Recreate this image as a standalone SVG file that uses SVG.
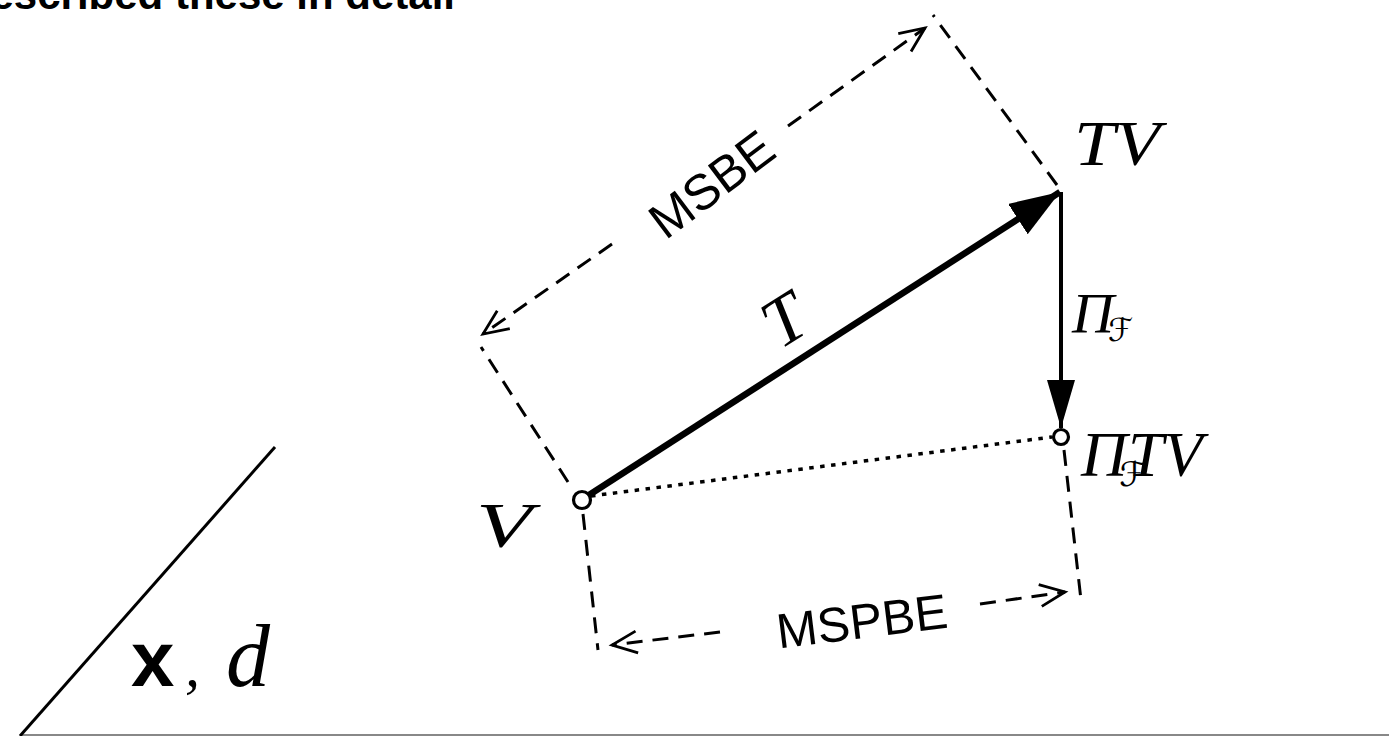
<svg xmlns="http://www.w3.org/2000/svg" width="1389" height="736" viewBox="0 0 1389 736">
<style>
.dash{fill:none;stroke:#000;stroke-width:3;stroke-dasharray:16 10}
.dot{fill:none;stroke:#000;stroke-width:3.5;stroke-dasharray:4.5 6.5}
.math{font-family:"Liberation Serif","DejaVu Serif",serif;font-style:italic;fill:#000}
.cal{font-family:"DejaVu Sans",sans-serif;font-style:normal}
.lab{font-family:"Liberation Sans",Arial,sans-serif;fill:#000}
.pt{fill:#fff;stroke:#000;stroke-width:3.2}
</style>
<defs>
<marker id="fill" markerUnits="userSpaceOnUse" markerWidth="56" markerHeight="40" refX="50" refY="18" orient="auto">
<path d="M0,0 L50,18 L0,36 Z" fill="#000"/>
</marker>
<marker id="fill2" markerUnits="userSpaceOnUse" markerWidth="56" markerHeight="34" refX="48" refY="14" orient="auto">
<path d="M0,0 L48,14 L0,28 Z" fill="#000"/>
</marker>
<marker id="open" markerUnits="userSpaceOnUse" markerWidth="34" markerHeight="34" refX="27" refY="14" orient="auto">
<path d="M2,3 L27,14 L2,25" fill="none" stroke="#000" stroke-width="2.8"/>
</marker>
</defs>
<text class="lab" x="455" y="9" font-size="42" font-weight="bold" text-anchor="end">described these in detail</text>
<line x1="22" y1="735" x2="1389" y2="735" stroke="#888" stroke-width="2"/>
<g id="connectors">
<path class="dash" d="M568,482 L481,347"/>
<path class="dash" d="M1057,185 L933,15"/>
<path class="dash" d="M583,514 L598,650"/>
<path class="dash" d="M1064,450 L1081,600"/>
<path class="dash" d="M612,244 L483,334" marker-end="url(#open)"/>
<path class="dash" d="M788,126 L925,28" marker-end="url(#open)"/>
<path class="dash" d="M720,632 L612,645" marker-end="url(#open)"/>
<path class="dash" d="M980,604 L1065,592" marker-end="url(#open)"/>
<path class="dot" d="M591,496 L1052,437"/>
<line x1="589" y1="495" x2="1060" y2="192" stroke="#000" stroke-width="6.5" marker-end="url(#fill)"/>
<line x1="1061" y1="192" x2="1061" y2="428" stroke="#000" stroke-width="4" marker-end="url(#fill2)"/>
</g>
<g id="V"><circle class="pt" cx="582" cy="500" r="8.5"/><text class="math" x="476" y="547" font-size="64" textLength="56" lengthAdjust="spacingAndGlyphs">V</text></g>
<g id="TV"><text class="math" x="1074" y="165" font-size="64" textLength="86" lengthAdjust="spacingAndGlyphs">TV</text></g>
<g id="PiTV"><circle class="pt" cx="1061" cy="437" r="7.5"/><text class="math" x="1081" y="476" font-size="64">Π<tspan class="cal" font-size="34" dy="10" dx="-8">ℱ</tspan><tspan dy="-10" dx="-18">TV</tspan></text></g>
<g id="labels">
<text class="math" font-size="70" transform="translate(780,350) rotate(-32)">T</text>
<text class="math" x="1072" y="333" font-size="58">Π<tspan class="cal" font-size="32" dy="8" dx="-6">ℱ</tspan></text>
<text class="lab" font-size="50" text-anchor="middle" transform="translate(722,198) rotate(-37)">MSBE</text>
<text class="lab" font-size="49" text-anchor="middle" transform="translate(864,638) rotate(-7)">MSPBE</text>
</g>
<g id="xd">
<line x1="275" y1="447" x2="20" y2="736" stroke="#000" stroke-width="3"/>
<text y="686"><tspan class="lab" x="131" font-weight="bold" font-size="78">x</tspan><tspan class="math" x="185" font-style="normal" font-size="60">,</tspan><tspan class="math" x="226" font-size="88">d</tspan></text>
</g>
</svg>
